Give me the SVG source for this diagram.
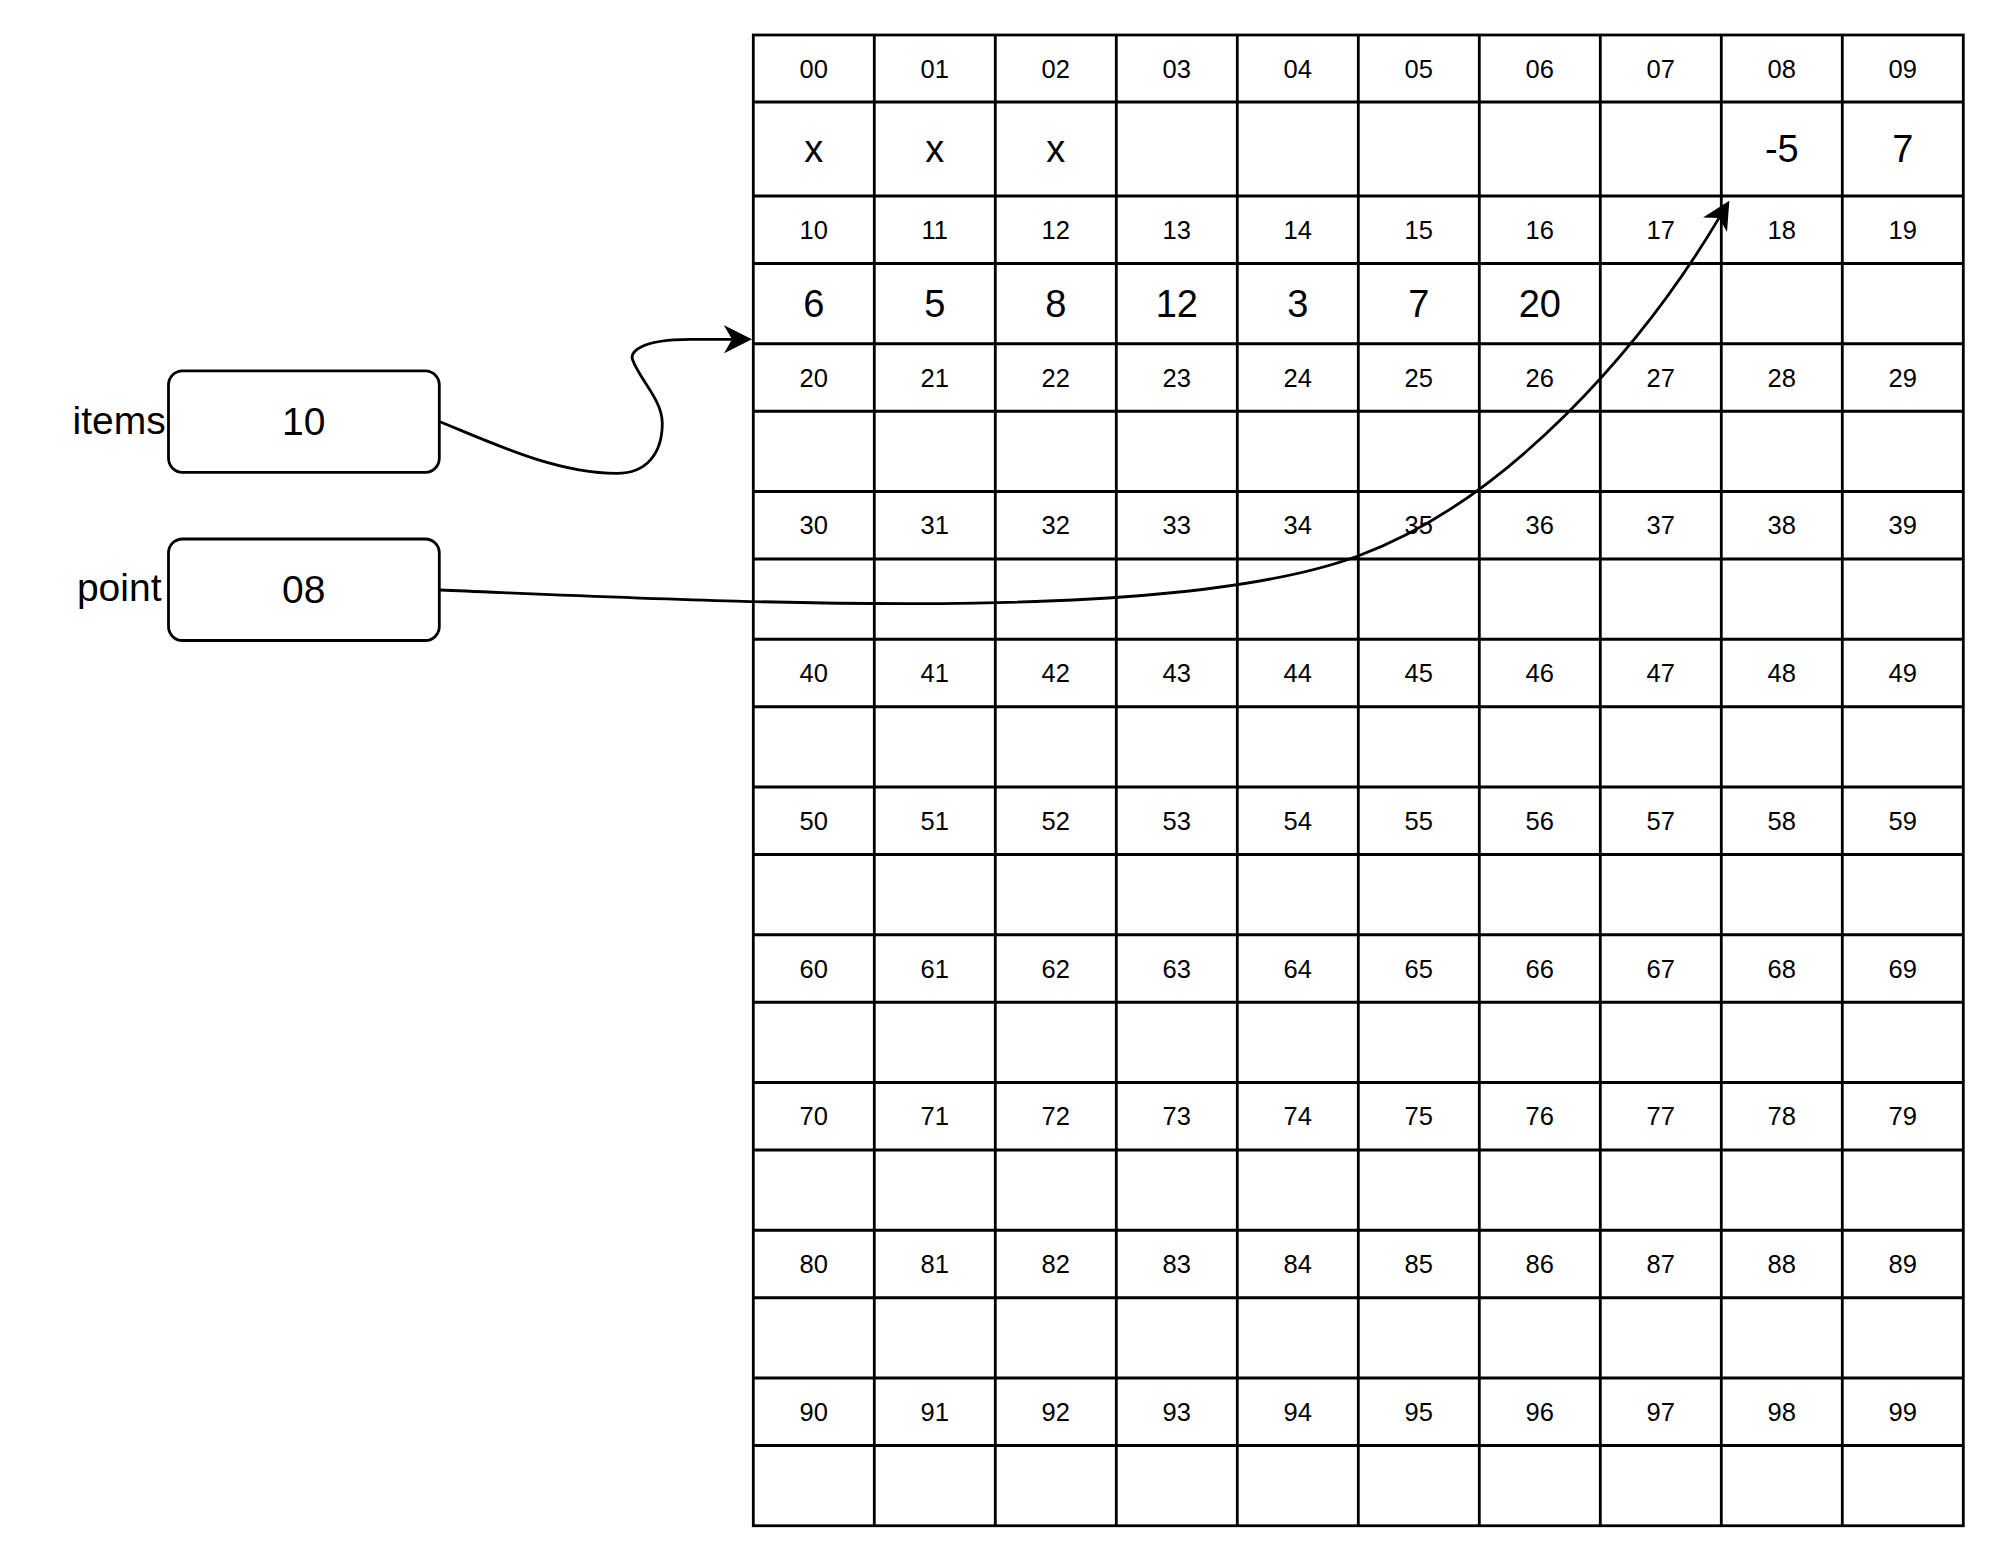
<svg xmlns="http://www.w3.org/2000/svg" width="1999" height="1563" viewBox="0 0 1999 1563">
<style>
.ln{fill:none;stroke:#000;stroke-width:2.8}
.bx{fill:#fff;stroke:#000;stroke-width:2.8}
.t{font-family:"Liberation Sans",Arial,sans-serif;fill:#000;text-anchor:middle}
.s{font-size:25.5px}
.v{font-size:38px}
.b{font-size:39px}
</style>
<defs>
<marker id="arr" markerUnits="userSpaceOnUse" markerWidth="28" markerHeight="28" viewBox="0 0 28 28" refX="8" refY="14" orient="auto">
<path d="M0,0 L28,14 L0,28 L8,14 Z" fill="#000"/>
</marker>
</defs>
<rect width="1999" height="1563" fill="#fff"/>
<g id="memory">
<rect class="ln" x="753.3" y="35" width="1210" height="1490.75"/>
<path class="ln" d="M753.3,102H1963.3M753.3,196H1963.3M753.3,263.5H1963.3M753.3,343.75H1963.3M753.3,411.25H1963.3M753.3,491.5H1963.3M753.3,559H1963.3M753.3,639.25H1963.3M753.3,706.75H1963.3M753.3,787H1963.3M753.3,854.5H1963.3M753.3,934.75H1963.3M753.3,1002.25H1963.3M753.3,1082.5H1963.3M753.3,1150H1963.3M753.3,1230.25H1963.3M753.3,1297.75H1963.3M753.3,1378H1963.3M753.3,1445.5H1963.3"/>
<path class="ln" d="M874.3,35V1525.75M995.3,35V1525.75M1116.3,35V1525.75M1237.3,35V1525.75M1358.3,35V1525.75M1479.3,35V1525.75M1600.3,35V1525.75M1721.3,35V1525.75M1842.3,35V1525.75"/>
<g class="t s">
<text x="813.8" y="77.5">00</text><text x="934.8" y="77.5">01</text><text x="1055.8" y="77.5">02</text><text x="1176.8" y="77.5">03</text><text x="1297.8" y="77.5">04</text><text x="1418.8" y="77.5">05</text><text x="1539.8" y="77.5">06</text><text x="1660.8" y="77.5">07</text><text x="1781.8" y="77.5">08</text><text x="1902.8" y="77.5">09</text>
<text x="813.8" y="238.75">10</text><text x="934.8" y="238.75">11</text><text x="1055.8" y="238.75">12</text><text x="1176.8" y="238.75">13</text><text x="1297.8" y="238.75">14</text><text x="1418.8" y="238.75">15</text><text x="1539.8" y="238.75">16</text><text x="1660.8" y="238.75">17</text><text x="1781.8" y="238.75">18</text><text x="1902.8" y="238.75">19</text>
<text x="813.8" y="386.5">20</text><text x="934.8" y="386.5">21</text><text x="1055.8" y="386.5">22</text><text x="1176.8" y="386.5">23</text><text x="1297.8" y="386.5">24</text><text x="1418.8" y="386.5">25</text><text x="1539.8" y="386.5">26</text><text x="1660.8" y="386.5">27</text><text x="1781.8" y="386.5">28</text><text x="1902.8" y="386.5">29</text>
<text x="813.8" y="534.25">30</text><text x="934.8" y="534.25">31</text><text x="1055.8" y="534.25">32</text><text x="1176.8" y="534.25">33</text><text x="1297.8" y="534.25">34</text><text x="1418.8" y="534.25">35</text><text x="1539.8" y="534.25">36</text><text x="1660.8" y="534.25">37</text><text x="1781.8" y="534.25">38</text><text x="1902.8" y="534.25">39</text>
<text x="813.8" y="682">40</text><text x="934.8" y="682">41</text><text x="1055.8" y="682">42</text><text x="1176.8" y="682">43</text><text x="1297.8" y="682">44</text><text x="1418.8" y="682">45</text><text x="1539.8" y="682">46</text><text x="1660.8" y="682">47</text><text x="1781.8" y="682">48</text><text x="1902.8" y="682">49</text>
<text x="813.8" y="829.75">50</text><text x="934.8" y="829.75">51</text><text x="1055.8" y="829.75">52</text><text x="1176.8" y="829.75">53</text><text x="1297.8" y="829.75">54</text><text x="1418.8" y="829.75">55</text><text x="1539.8" y="829.75">56</text><text x="1660.8" y="829.75">57</text><text x="1781.8" y="829.75">58</text><text x="1902.8" y="829.75">59</text>
<text x="813.8" y="977.5">60</text><text x="934.8" y="977.5">61</text><text x="1055.8" y="977.5">62</text><text x="1176.8" y="977.5">63</text><text x="1297.8" y="977.5">64</text><text x="1418.8" y="977.5">65</text><text x="1539.8" y="977.5">66</text><text x="1660.8" y="977.5">67</text><text x="1781.8" y="977.5">68</text><text x="1902.8" y="977.5">69</text>
<text x="813.8" y="1125.25">70</text><text x="934.8" y="1125.25">71</text><text x="1055.8" y="1125.25">72</text><text x="1176.8" y="1125.25">73</text><text x="1297.8" y="1125.25">74</text><text x="1418.8" y="1125.25">75</text><text x="1539.8" y="1125.25">76</text><text x="1660.8" y="1125.25">77</text><text x="1781.8" y="1125.25">78</text><text x="1902.8" y="1125.25">79</text>
<text x="813.8" y="1273">80</text><text x="934.8" y="1273">81</text><text x="1055.8" y="1273">82</text><text x="1176.8" y="1273">83</text><text x="1297.8" y="1273">84</text><text x="1418.8" y="1273">85</text><text x="1539.8" y="1273">86</text><text x="1660.8" y="1273">87</text><text x="1781.8" y="1273">88</text><text x="1902.8" y="1273">89</text>
<text x="813.8" y="1420.75">90</text><text x="934.8" y="1420.75">91</text><text x="1055.8" y="1420.75">92</text><text x="1176.8" y="1420.75">93</text><text x="1297.8" y="1420.75">94</text><text x="1418.8" y="1420.75">95</text><text x="1539.8" y="1420.75">96</text><text x="1660.8" y="1420.75">97</text><text x="1781.8" y="1420.75">98</text><text x="1902.8" y="1420.75">99</text>
</g>
<g class="t v">
<text x="813.8" y="162">x</text><text x="934.8" y="162">x</text><text x="1055.8" y="162">x</text><text x="1781.8" y="162">-5</text><text x="1902.8" y="162">7</text>
<text x="813.8" y="316.5">6</text><text x="934.8" y="316.5">5</text><text x="1055.8" y="316.5">8</text><text x="1176.8" y="316.5">12</text><text x="1297.8" y="316.5">3</text><text x="1418.8" y="316.5">7</text><text x="1539.8" y="316.5">20</text>
</g>
</g>
<g id="items">
<rect class="bx" x="168.5" y="370.8" width="270.8" height="101.5" rx="14"/>
<text class="t b" x="303.8" y="435">10</text>
<text class="t b" x="119.2" y="434">items</text>
</g>
<g id="point">
<rect class="bx" x="168.5" y="539" width="270.8" height="101.5" rx="14"/>
<text class="t b" x="303.8" y="603">08</text>
<text class="t b" x="119.2" y="601">point</text>
</g>
<g id="connectors">
<path class="ln" marker-end="url(#arr)" d="M440,421.7 C495.5,444.5 556.7,473.3 616.7,473.3 C646.7,473.3 662.3,453.3 662.3,423.3 C662.3,400 640,380 632.7,360 C629.7,352 640,339.5 690,339.4 L732,339.3"/>
<path class="ln" marker-end="url(#arr)" d="M440,590 C740,602 1170.4,625.4 1358,556 C1508,500.5 1642.3,346.8 1719.1,217.9"/>
</g>
</svg>
